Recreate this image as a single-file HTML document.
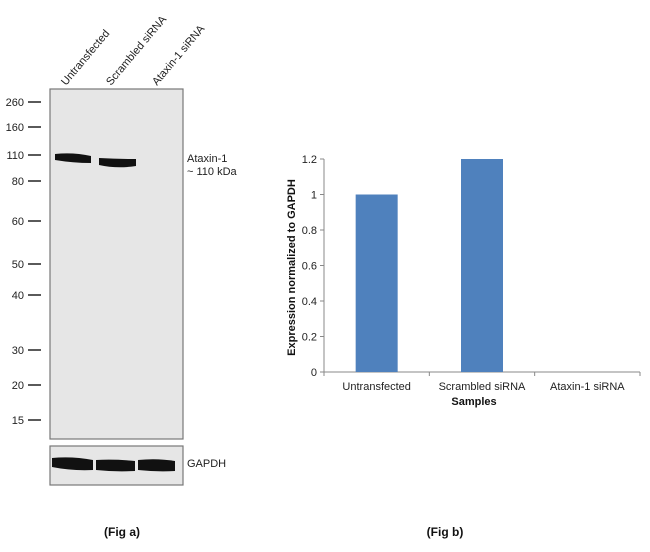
<!DOCTYPE html>
<html><head><meta charset="utf-8"><style>
body{margin:0;background:#fff;width:650px;height:552px;overflow:hidden;font-family:"Liberation Sans",Arial,sans-serif}
svg{display:block}
</style></head><body>
<svg id="fig" width="650" height="552" xmlns="http://www.w3.org/2000/svg" font-family="Liberation Sans, Arial, sans-serif">
<g>
  <text transform="translate(66,86) rotate(-50)" font-size="11" fill="#222">Untransfected</text>
  <text transform="translate(111,86) rotate(-50)" font-size="11" fill="#222">Scrambled siRNA</text>
  <text transform="translate(157,86) rotate(-50)" font-size="11" fill="#222">Ataxin-1 siRNA</text>
  <rect x="50" y="89" width="133" height="350" fill="#e6e6e6" stroke="#777" stroke-width="1.2"/>
  <g id="markers"></g>
  <path d="M55,154 Q73,152 91,156 L91,163 Q73,163 55,160 Z" fill="#111"/>
  <path d="M99,158 Q117,159 136,159 L136,166 Q117,169 99,165 Z" fill="#111"/>
  <text x="187" y="162" font-size="11" fill="#222">Ataxin-1</text>
  <text x="187" y="175" font-size="11" fill="#222">~ 110 kDa</text>
  <rect x="50" y="446" width="133" height="39" fill="#e6e6e6" stroke="#777" stroke-width="1.2"/>
  <path d="M52,458 Q72,456 93,460 L93,470 Q72,471 52,467 Z" fill="#111"/>
  <path d="M96,460 Q115,459 135,461 L135,471 Q115,472 96,470 Z" fill="#111"/>
  <path d="M138,460 Q157,458 175,461 L175,471 Q157,472 138,470 Z" fill="#111"/>
  <text x="187" y="467" font-size="11" fill="#222">GAPDH</text>
  <text x="122" y="536" text-anchor="middle" font-size="12" font-weight="bold" fill="#111">(Fig a)</text>
</g>
<g id="chart">
  <text x="445" y="536" text-anchor="middle" font-size="12" font-weight="bold" fill="#111">(Fig b)</text>
</g>
</svg>
<script>
const NS='http://www.w3.org/2000/svg';
const markerLabels=['260','160','110','80','60','50','40','30','20','15'];
const markerY=[102,127,155,181,221,264,295,350,385,420];
const categories=['Untransfected','Scrambled siRNA','Ataxin-1 siRNA'];
const values=[1.0,1.2,0];
const yTicks=[0,0.2,0.4,0.6,0.8,1,1.2];
const yTickLabels=['0','0.2','0.4','0.6','0.8','1','1.2'];
function mk(tag,attrs,parent){const e=document.createElementNS(NS,tag);for(const k in attrs)e.setAttribute(k,attrs[k]);parent.appendChild(e);return e;}
const mg=document.getElementById('markers');
markerLabels.forEach((l,i)=>{
  const t=mk('text',{x:24,y:markerY[i]+4,'text-anchor':'end','font-size':11,fill:'#222'},mg);t.textContent=l;
  
  
  const ln=mk('line',{x1:28,x2:41,y1:markerY[i],y2:markerY[i],stroke:'#222','stroke-width':1.5},mg);
  
  
});
const g=document.getElementById('chart');
const X0=324,X1=640,Y0=372,Ymax=1.2,Ytop=159;
const yS=v=>Y0-(v/Ymax)*(Y0-Ytop);
const bw=(X1-X0)/categories.length;
const xS=i=>X0+bw*(i+0.5);
const ya=mk('line',{x1:X0,x2:X0,y1:Ytop,y2:Y0,stroke:'#888'},g);


const xa=mk('line',{x1:X0,x2:X1,y1:Y0,y2:Y0,stroke:'#888'},g);


yTicks.forEach((v,i)=>{
  const tk=mk('line',{x1:X0-4,x2:X0,y1:yS(v),y2:yS(v),stroke:'#888'},g);
  
  
  const t=mk('text',{x:X0-7,y:yS(v)+4,'text-anchor':'end','font-size':11,fill:'#222'},g);t.textContent=yTickLabels[i];
  
  
});
for(let i=0;i<=categories.length;i++){
  const tk=mk('line',{x1:X0+bw*i,x2:X0+bw*i,y1:Y0,y2:Y0+4,stroke:'#888'},g);
  
  
}
categories.forEach((c,i)=>{
  const h=Y0-yS(values[i]);
  if(h>0){const b=mk('rect',{x:xS(i)-21,y:yS(values[i]),width:42,height:h,fill:'#4f81bd'},g);
  
  }
  const t=mk('text',{x:xS(i),y:Y0+18,'text-anchor':'middle','font-size':11,fill:'#222'},g);t.textContent=c;
  
  
});
const xt=mk('text',{x:(X0+X1)/2-8,y:Y0+33,'text-anchor':'middle','font-size':11,'font-weight':'bold',fill:'#111'},g);xt.textContent='Samples';


const yt=mk('text',{transform:'translate(295,'+((Ytop+Y0)/2+2)+') rotate(-90)','text-anchor':'middle','font-size':11,'font-weight':'bold',fill:'#111'},g);yt.textContent='Expression  normalized to GAPDH';


</script>
</body></html>
